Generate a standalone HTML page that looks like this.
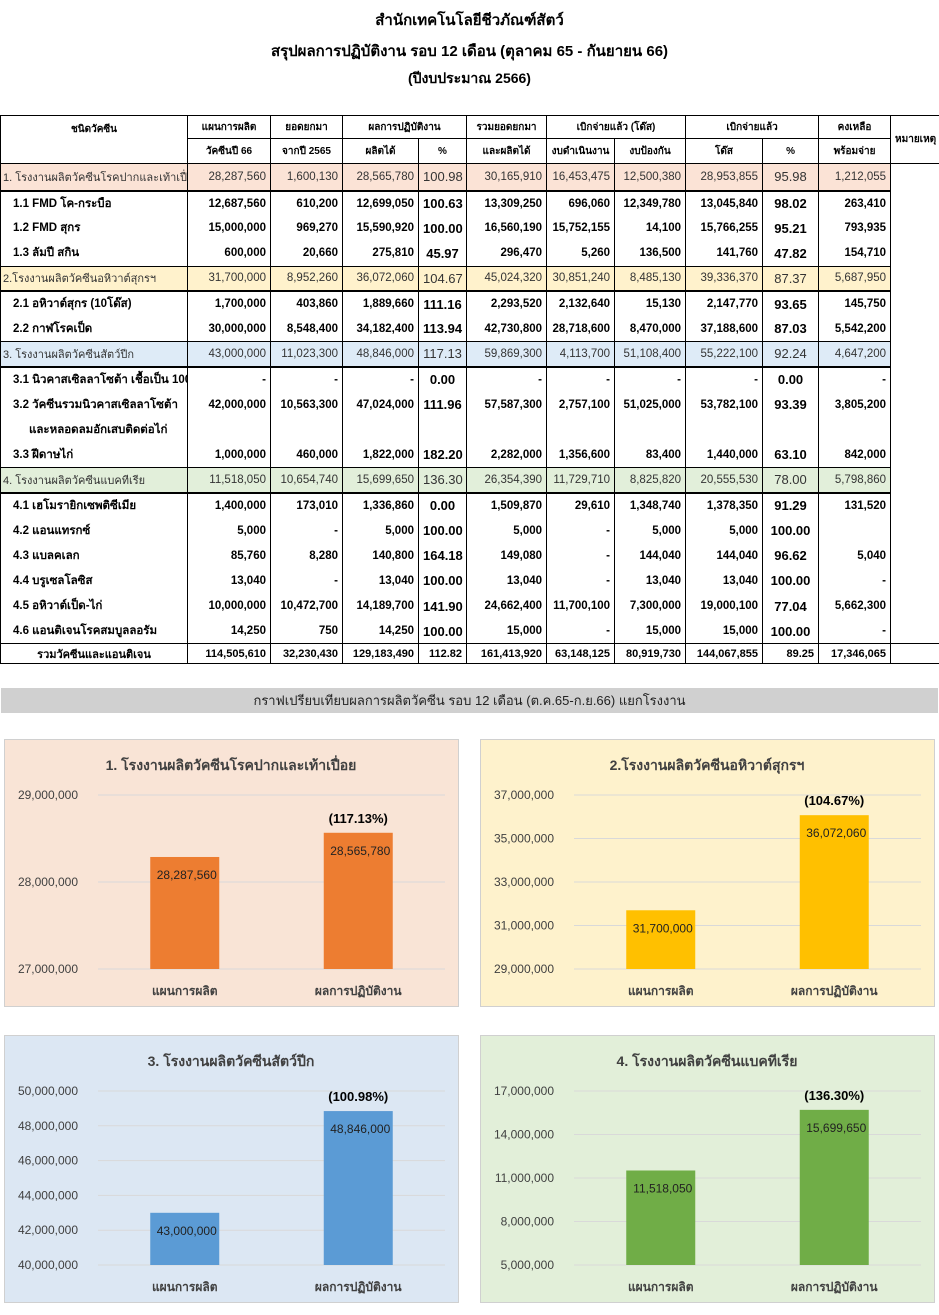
<!DOCTYPE html>
<html><head><meta charset="utf-8">
<style>
body{margin:0;width:939px;height:1315px;background:#fff;font-family:"Liberation Sans","DejaVu Sans",sans-serif;position:relative;overflow:hidden}
.t{position:absolute;left:0;width:939px;text-align:center;font-weight:bold;font-size:15px;color:#000}
table{position:absolute;left:0;top:115px;border-collapse:collapse;table-layout:fixed;width:939px;font-size:11.5px}
td{border-left:1px solid #000;border-right:1px solid #000;padding:0 4px;white-space:nowrap;overflow:hidden;text-align:right}
td.n{text-align:left}
tr.h td{font-weight:bold;text-align:center;font-size:10px;border:1px solid #000}
tr.g td{color:#333}
tr.g td.n{font-size:11px;padding-left:2px}
tr.g td:not(.r){border-bottom:2px solid #000;border-top:1px solid #000}
tr.s td{font-weight:bold}
tr.tot td{border:1px solid #000;font-weight:bold;font-size:11px}
.panel{position:absolute;width:453px;height:266px;border:1px solid #d0d0d0}
.bar-title{position:absolute;left:1px;top:688px;width:937px;height:25px;background:#d0d0d0;text-align:center;font-size:13px;line-height:25px;color:#222}
</style></head><body>
<div class="t" style="top:8px">สำนักเทคโนโลยีชีวภัณฑ์สัตว์</div>
<div class="t" style="top:39px">สรุปผลการปฏิบัติงาน รอบ 12 เดือน (ตุลาคม 65 -  กันยายน 66)</div>
<div class="t" style="top:68px;font-size:14px">(ปีงบประมาณ 2566)</div>

<table>
<colgroup><col style="width:187px"><col style="width:83px"><col style="width:72px"><col style="width:76px"><col style="width:48px"><col style="width:80px"><col style="width:68px"><col style="width:71px"><col style="width:77px"><col style="width:56px"><col style="width:72px"><col style="width:49px"></colgroup>
<tr class="h" style="height:23px"><td rowspan="2" style="vertical-align:top;padding-top:6px">ชนิดวัคซีน</td><td>แผนการผลิต</td><td>ยอดยกมา</td><td colspan="2">ผลการปฏิบัติงาน</td><td>รวมยอดยกมา</td><td colspan="2">เบิกจ่ายแล้ว (โด๊ส)</td><td colspan="2">เบิกจ่ายแล้ว</td><td>คงเหลือ</td><td rowspan="2">หมายเหตุ</td></tr>
<tr class="h" style="height:25px"><td>วัคซีนปี 66</td><td>จากปี 2565</td><td>ผลิตได้</td><td>%</td><td>และผลิตได้</td><td>งบดำเนินงาน</td><td>งบป้องกัน</td><td>โด๊ส</td><td>%</td><td>พร้อมจ่าย</td></tr>
<tbody id="tb"></tbody>
</table>

<div class="bar-title">กราฟเปรียบเทียบผลการผลิตวัคซีน รอบ 12 เดือน (ต.ค.65-ก.ย.66) แยกโรงงาน</div>

<div class="panel" style="left:4px;top:739px;background:#f9e4d6"><svg id="c1" width="453" height="266"></svg></div>
<div class="panel" style="left:480px;top:739px;background:#fef2cc"><svg id="c2" width="453" height="266"></svg></div>
<div class="panel" style="left:4px;top:1035px;background:#dce7f3"><svg id="c3" width="453" height="266"></svg></div>
<div class="panel" style="left:480px;top:1035px;background:#e2efd9"><svg id="c4" width="453" height="266"></svg></div>

<script>
const rows=[
["g","#fbe3d6","1. โรงงานผลิตวัคซีนโรคปากและเท้าเปื่อย","28,287,560","1,600,130","28,565,780","100.98","30,165,910","16,453,475","12,500,380","28,953,855","95.98","1,212,055"],
["s","","1.1 FMD โค-กระบือ","12,687,560","610,200","12,699,050","100.63","13,309,250","696,060","12,349,780","13,045,840","98.02","263,410"],
["s","","1.2 FMD สุกร","15,000,000","969,270","15,590,920","100.00","16,560,190","15,752,155","14,100","15,766,255","95.21","793,935"],
["s","","1.3 ลัมปี สกิน","600,000","20,660","275,810","45.97","296,470","5,260","136,500","141,760","47.82","154,710"],
["g","#fff2cc","2.โรงงานผลิตวัคซีนอหิวาต์สุกรฯ","31,700,000","8,952,260","36,072,060","104.67","45,024,320","30,851,240","8,485,130","39,336,370","87.37","5,687,950"],
["s","","2.1 อหิวาต์สุกร (10โด๊ส)","1,700,000","403,860","1,889,660","111.16","2,293,520","2,132,640","15,130","2,147,770","93.65","145,750"],
["s","","2.2 กาฬโรคเป็ด","30,000,000","8,548,400","34,182,400","113.94","42,730,800","28,718,600","8,470,000","37,188,600","87.03","5,542,200"],
["g","#deebf7","3. โรงงานผลิตวัคซีนสัตว์ปีก","43,000,000","11,023,300","48,846,000","117.13","59,869,300","4,113,700","51,108,400","55,222,100","92.24","4,647,200"],
["s","","3.1 นิวคาสเซิลลาโซต้า เชื้อเป็น 100 โด๊ส","-","-","-","0.00","-","-","-","-","0.00","-"],
["s","","3.2 วัคซีนรวมนิวคาสเซิลลาโซต้า","42,000,000","10,563,300","47,024,000","111.96","57,587,300","2,757,100","51,025,000","53,782,100","93.39","3,805,200"],
["s","","&nbsp;&nbsp;&nbsp;&nbsp;&nbsp;และหลอดลมอักเสบติดต่อไก่","","","","","","","","","",""],
["s","","3.3 ฝีดาษไก่","1,000,000","460,000","1,822,000","182.20","2,282,000","1,356,600","83,400","1,440,000","63.10","842,000"],
["g","#e2efda","4. โรงงานผลิตวัคซีนแบคทีเรีย","11,518,050","10,654,740","15,699,650","136.30","26,354,390","11,729,710","8,825,820","20,555,530","78.00","5,798,860"],
["s","","4.1 เฮโมรายิกเซพติซีเมีย","1,400,000","173,010","1,336,860","0.00","1,509,870","29,610","1,348,740","1,378,350","91.29","131,520"],
["s","","4.2 แอนแทรกซ์","5,000","-","5,000","100.00","5,000","-","5,000","5,000","100.00",""],
["s","","4.3 แบลคเลก","85,760","8,280","140,800","164.18","149,080","-","144,040","144,040","96.62","5,040"],
["s","","4.4 บรูเซลโลซิส","13,040","-","13,040","100.00","13,040","-","13,040","13,040","100.00","-"],
["s","","4.5 อหิวาต์เป็ด-ไก่","10,000,000","10,472,700","14,189,700","141.90","24,662,400","11,700,100","7,300,000","19,000,100","77.04","5,662,300"],
["s","","4.6 แอนติเจนโรคสมบูลลอรัม","14,250","750","14,250","100.00","15,000","-","15,000","15,000","100.00","-"],
["tot","","รวมวัคซีนและแอนติเจน","114,505,610","32,230,430","129,183,490","112.82","161,413,920","63,148,125","80,919,730","144,067,855","89.25","17,346,065"]
];
const tb=document.getElementById('tb');
rows.forEach((r,i)=>{
  const tr=document.createElement('tr');
  
  
  tr.className=r[0];
  tr.style.height=(i===0?27:(r[0]==='tot'?20:25.2))+'px';
  let h='';
  for(let c=2;c<13;c++){
    const bg=r[1]?'background:'+r[1]+';':'';
    let cls=c===2?'n':'';
    if(r[0]==='tot'&&c===2)cls='';
    const al=(r[0]==='tot'&&c===2)?'text-align:center;':'';
    const pad=(r[0]==='s'&&c===2)?'padding-left:12px;':'';
    const pct=(c===6||c===11)&&r[0]!=='tot'?'font-size:13px;text-align:center;':'';
    h+='<td class="'+cls+'" style="'+bg+al+pad+pct+'">'+r[c]+'</td>';
  }
  h+= r[0]==='tot'?'<td></td>':'<td class="r" style="border-top:none;border-bottom:none"></td>';
  tr.innerHTML=h;
  tb.appendChild(tr);
});
</script>

<script>
const categories=["แผนการผลิต","ผลการปฏิบัติงาน"];
const chartTitles=["1. โรงงานผลิตวัคซีนโรคปากและเท้าเปื่อย","2.โรงงานผลิตวัคซีนอหิวาต์สุกรฯ","3. โรงงานผลิตวัคซีนสัตว์ปีก","4. โรงงานผลิตวัคซีนแบคทีเรีย"];
const chart1Values=[28287560,28565780];
const chart2Values=[31700000,36072060];
const chart3Values=[43000000,48846000];
const chart4Values=[11518050,15699650];
const chart1Ticks=[27000000,28000000,29000000];
const chart2Ticks=[29000000,31000000,33000000,35000000,37000000];
const chart3Ticks=[40000000,42000000,44000000,46000000,48000000,50000000];
const chart4Ticks=[5000000,8000000,11000000,14000000,17000000];
const percentLabels=["(117.13%)","(104.67%)","(100.98%)","(136.30%)"];
const barColors=["#ed7d31","#ffc000","#5b9bd5","#70ad47"];

const NS='http://www.w3.org/2000/svg';
function mk(svg,tag,attrs,txt){const e=document.createElementNS(NS,tag);for(const k in attrs)e.setAttribute(k,attrs[k]);if(txt!==undefined)e.textContent=txt;svg.appendChild(e);return e;}
function fmt(v){return v.toLocaleString('en-US');}
function draw(id,idx,values,ticks){
  const svg=document.getElementById(id);
  const x0=93,x1=440,yTop=55,yBot=229;
  const mn=ticks[0],mx=ticks[ticks.length-1];
  const y=v=>yBot-(v-mn)/(mx-mn)*(yBot-yTop);
  const band=(x1-x0)/categories.length;
  const xc=i=>x0+band*(i+0.5);
  let t=mk(svg,'text',{x:226,y:30,'text-anchor':'middle','font-size':14,'font-weight':'bold',fill:'#404040'},chartTitles[idx]);
  
  
  ticks.forEach(v=>{
    const g=mk(svg,'line',{x1:x0,x2:x1,y1:y(v),y2:y(v),stroke:'#d9d9d9','stroke-width':1});
    
    
    const l=mk(svg,'text',{x:73,y:y(v)+4,'text-anchor':'end','font-size':12,fill:'#404040'},fmt(v));
    
    
  });
  values.forEach((v,i)=>{
    const w=69;
    const b=mk(svg,'rect',{x:xc(i)-w/2,y:y(v),width:w,height:yBot-y(v),fill:barColors[idx]});
    
    
    const vl=mk(svg,'text',{x:xc(i)+2,y:y(v)+22,'text-anchor':'middle','font-size':12,fill:'#222'},fmt(v));
    
    
    const c=mk(svg,'text',{x:xc(i),y:255,'text-anchor':'middle','font-size':12,'font-weight':'bold',fill:'#404040'},categories[i]);
    
    
  });
  const p=mk(svg,'text',{x:xc(1),y:y(values[1])-10,'text-anchor':'middle','font-size':13,'font-weight':'bold',fill:'#000'},percentLabels[idx]);
  
  
}
draw('c1',0,chart1Values,chart1Ticks);
draw('c2',1,chart2Values,chart2Ticks);
draw('c3',2,chart3Values,chart3Ticks);
draw('c4',3,chart4Values,chart4Ticks);
</script>
</body></html>
